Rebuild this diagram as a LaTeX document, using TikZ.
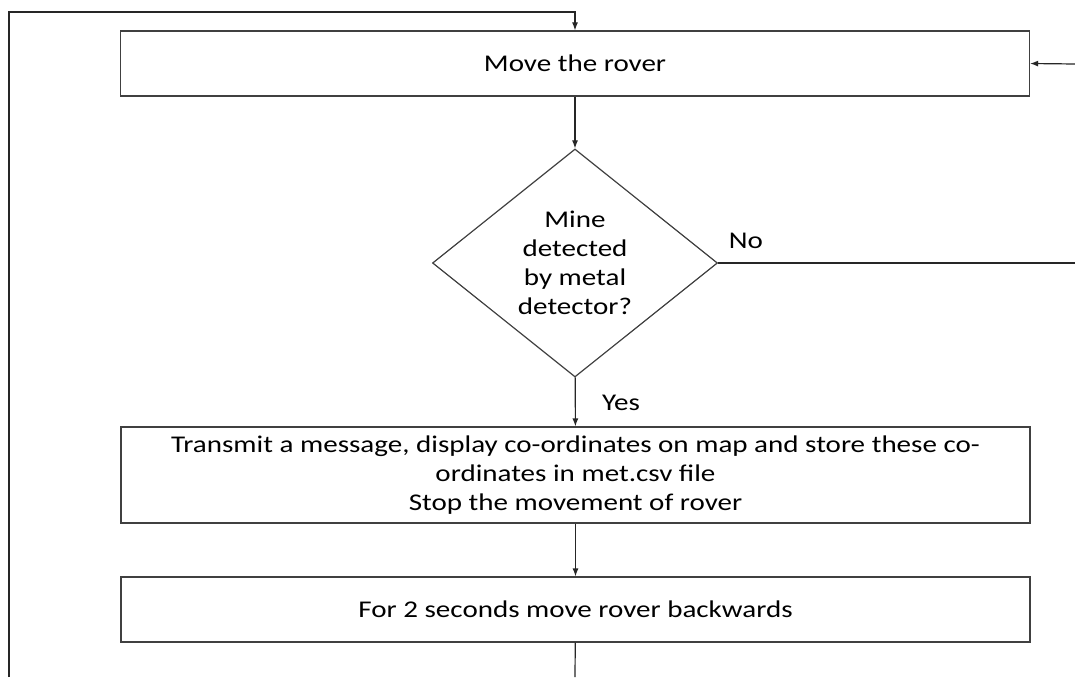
\documentclass[tikz,border=0pt]{standalone}
\usepackage{fontspec}
\setmainfont{Carlito}[FakeStretch=1.21]
\usetikzlibrary{shapes.geometric,arrows.meta}

\begin{document}
\begin{tikzpicture}[x=1pt,y=-1pt,
    font=\fontsize{24}{29}\selectfont,
    line width=1.2pt,
    box/.style={draw=black!75,rectangle,minimum width=909pt,inner sep=0pt,align=center},
    decision/.style={draw=black!75,diamond,aspect=1.25,minimum width=285pt,minimum height=228pt,inner sep=0pt,align=center},
    flow/.style={draw=black!85,-{Latex[length=8pt,width=6pt]}},
    wire/.style={draw=black!85}]
    \fill[white] (0,0) rectangle (1075,677);
    \useasboundingbox (0,0) rectangle (1075,677);

    \node[box,minimum height=65pt] (move) at (575,63.5) {Move the rover};
    \node[decision] (detect) at (575,263) {Mine\\detected\\by metal\\detector?};
    \node[box,minimum height=96pt] (report) at (575.5,475) {Transmit a message, display co-ordinates on map and store these co-\\ordinates in met.csv file\\Stop the movement of rover};
    \node[box,minimum height=65pt] (reverse) at (575.5,609.5) {For 2 seconds move rover backwards};

    \node (no) at (746,241) {No};
    \node (yes) at (621,403) {Yes};

    \coordinate (noout) at (1075,263);
    \coordinate (noin) at (1075,64);
    \coordinate (loopout) at (575,677);
    \coordinate (loopin) at (9,677);
    \coordinate (looptop) at (9,12);

    \draw[flow] (move) -- (detect);
    \draw[flow] (detect) -- (report);
    \draw[flow] (report) -- (reverse);
    \draw[wire] (detect.east) -- (noout);
    \draw[flow] (noin) -- (move.east);
    \draw[wire] (reverse) -- (loopout);
    \draw[flow] (loopin) -- (looptop) -| (move.north);
\end{tikzpicture}
\end{document}
